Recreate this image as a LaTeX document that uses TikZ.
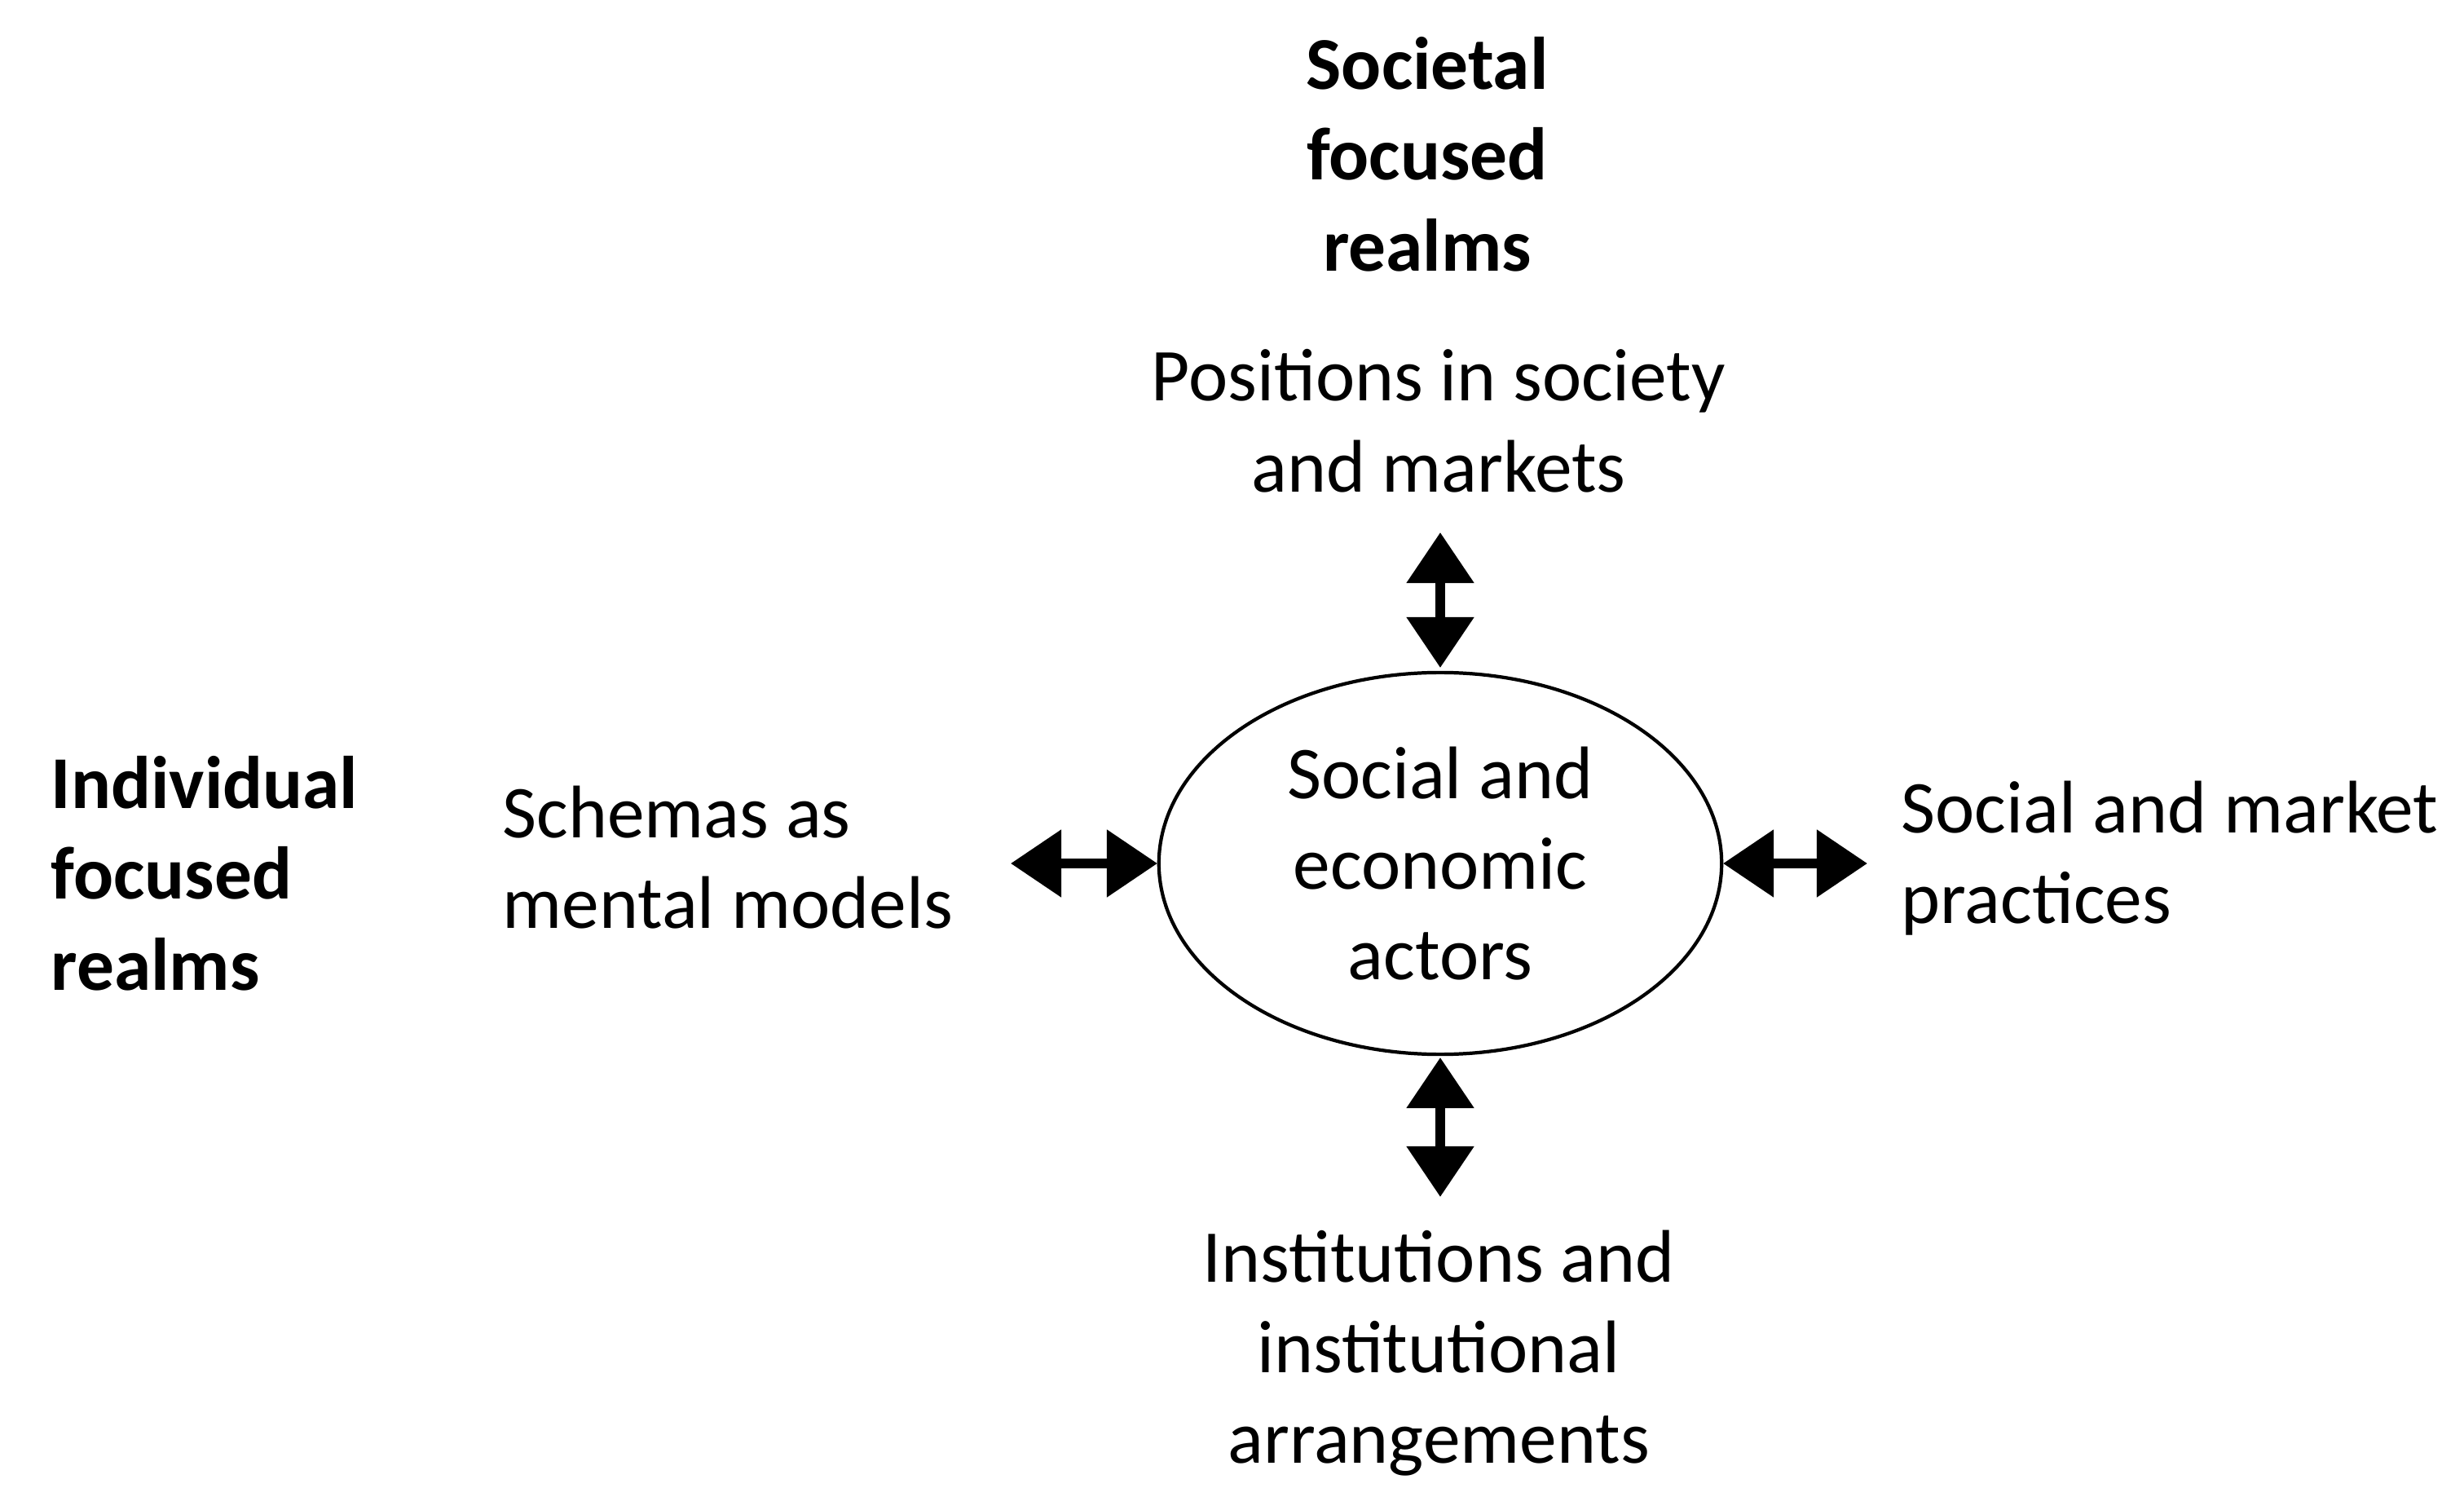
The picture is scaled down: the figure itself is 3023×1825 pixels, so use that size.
\documentclass[tikz,border=0pt]{standalone}
\usepackage{fontspec}
\setmainfont{Carlito}
\usetikzlibrary{arrows.meta,shapes.geometric}
\begin{document}
\begin{tikzpicture}[x=0.01cm,y=-0.01cm,
  txt/.style={font=\fontsize{26}{31.6}\selectfont,inner sep=0pt},
  bld/.style={txt,font=\fontsize{26}{31.6}\selectfont\bfseries},
  dbl/.style={line width=0.12cm,{Triangle[width=0.8cm,length=0.62cm]}-{Triangle[width=0.8cm,length=0.62cm]}}]
\useasboundingbox (0,0) rectangle (3023,1825);
\node[ellipse,draw,line width=1.2pt,minimum width=6.9cm,minimum height=4.68cm,inner sep=0pt] (c) at (1767,1059) {};
\node[txt,align=center] (ct) at (1767,1059) {Social and\\economic\\actors};
\node[bld,align=center,anchor=north] (soc) at (1751,45) {Societal\\focused\\realms};
\node[txt,align=center,anchor=north] (pos) at (1765,428) {Positions in society\\and markets};
\node[txt,align=center,anchor=north] (ins) at (1765,1508) {Institutions and\\institutional\\arrangements};
\node[txt,align=left,anchor=north west] (sch) at (616,963) {Schemas as\\mental models};
\node[txt,align=left,anchor=north west] (pra) at (2332,957) {Social and market\\practices};
\node[bld,align=left,anchor=north west] (ind) at (62,927) {Individual\\focused\\realms};
\coordinate (t1) at (1767,653); \coordinate (t2) at (1767,819);
\coordinate (b1) at (1767,1297); \coordinate (b2) at (1767,1468);
\coordinate (l1) at (1240,1059); \coordinate (l2) at (1420,1059);
\coordinate (r1) at (2114,1059); \coordinate (r2) at (2291,1059);
\draw[dbl] (t1) -- (t2);
\draw[dbl] (b1) -- (b2);
\draw[dbl] (l1) -- (l2);
\draw[dbl] (r1) -- (r2);
\end{tikzpicture}
\end{document}
